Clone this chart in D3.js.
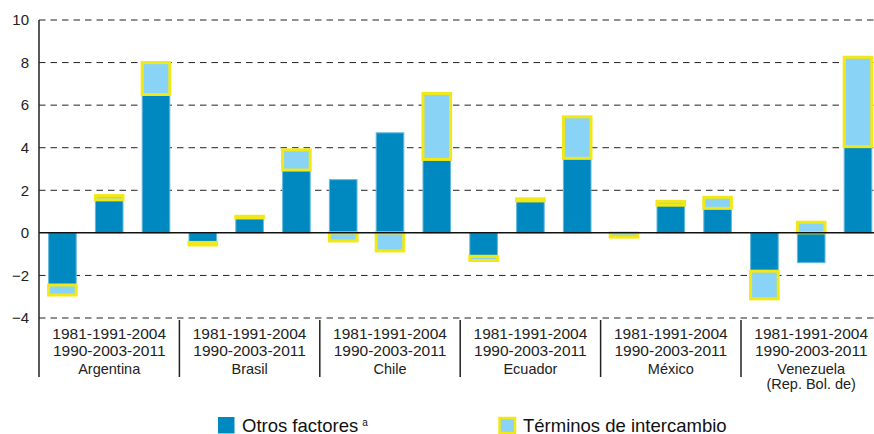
<!DOCTYPE html>
<html>
<head>
<meta charset="utf-8">
<script src="https://cdn.jsdelivr.net/npm/d3@7"></script>
<style>
	body { margin: 0; background: #fff; }
	svg { display: block; font-family: 'Liberation Sans', Arial, sans-serif; }
</style>
</head>
<body>
<div id="chart"></div>
<script>
// data
var countries = ['Argentina', 'Brasil', 'Chile', 'Ecuador', 'México', 'Venezuela\n(Rep. Bol. de)'];
var periods = ['1981-1990', '1991-2003', '2004-2011'];
// one value per country and period, same order
var otros = [-2.45, 1.55, 6.5, -0.45, 0.7, 2.95, 2.5, 4.7, 3.45, -1.1, 1.5, 3.5, 0, 1.3, 1.15, -1.8, -1.4, 4.05];
var terminos = [-0.47, 0.2, 1.5, -0.12, 0.08, 0.95, -0.38, -0.85, 3.1, -0.2, 0.1, 1.95, -0.2, 0.18, 0.52, -1.3, 0.5, 4.2];
var yTicks = [-4, -2, 0, 2, 4, 6, 8, 10];

var params = {
	width: 874,
	height: 434,
	left: 39,
	right: 881.4,
	top: 20,
	bottom: 318,
	otrosColor: '#0089c0',
	otrosEdge: '#62b9de',
	termColor: '#89d4f6',
	termEdge: '#f2e816'
};

var rows = [];
countries.forEach(function(c, i){
	periods.forEach(function(p, j){
		var k = i * periods.length + j;
		rows.push({country: c, period: p, otros: otros[k], terminos: terminos[k]});
	});
});

var svg = d3.select('#chart').append('svg')
	.attr('width', params.width)
	.attr('height', params.height);

var x0 = d3.scaleBand()
	.domain(countries)
	.range([params.left, params.right]);

var x1 = d3.scaleBand()
	.domain(periods)
	.range([0, x0.bandwidth()])
	.paddingInner(0.41)
	.paddingOuter(0.205);

var y = d3.scaleLinear()
	.domain([-4, 10])
	.range([params.bottom, params.top]);

// grid lines (dashed), zero line drawn later as solid
svg.append('g').selectAll('line')
	.data(yTicks.filter(function(d){ return d != 0; })).enter()
	.append('line')
		.attr('x1', params.left)
		.attr('x2', params.right)
		.attr('y1', function(d){ return y(d); })
		.attr('y2', function(d){ return y(d); })
		.attr('stroke', '#222')
		.attr('stroke-width', 1)
		.attr('stroke-dasharray', '6.5,5');

// stacked bars, diverging so negative parts hang from zero
var stack = d3.stack()
	.keys(['otros', 'terminos'])
	.offset(d3.stackOffsetDiverging);
var series = stack(rows);

var styles = {
	otros: {fill: params.otrosColor, stroke: params.otrosEdge, sw: 1},
	terminos: {fill: params.termColor, stroke: params.termEdge, sw: 3}
};

series.forEach(function(s){
	var st = styles[s.key];
	svg.append('g').selectAll('rect')
		.data(s.filter(function(d){ return d[1] - d[0] != 0; })).enter()
		.append('rect')
			.attr('x', function(d){ return x0(d.data.country) + x1(d.data.period); })
			.attr('width', x1.bandwidth())
			.attr('y', function(d){ return y(Math.max(d[0], d[1])); })
			.attr('height', function(d){ return Math.abs(y(d[0]) - y(d[1])); })
			.attr('fill', st.fill)
			.attr('stroke', st.stroke)
			.attr('stroke-width', st.sw);
});

// zero line
svg.append('line')
	.attr('x1', params.left)
	.attr('x2', params.right)
	.attr('y1', y(0))
	.attr('y2', y(0))
	.attr('stroke', '#111')
	.attr('stroke-width', 1.5);

// y axis
var yAxis = svg.append('g')
	.attr('transform', 'translate(' + params.left + ',0)')
	.call(d3.axisLeft(y).tickValues(yTicks).tickSize(0).tickPadding(10));
yAxis.select('.domain').remove();
yAxis.selectAll('text')
	.attr('font-size', '15px')
	.attr('fill', '#222')
	.attr('font-family', "'Liberation Sans', Arial, sans-serif");

svg.append('line')
	.attr('x1', params.left).attr('x2', params.left)
	.attr('y1', params.top).attr('y2', 377)
	.attr('stroke', '#222')
	.attr('stroke-width', 1.5);

// separators between countries
svg.append('g').selectAll('line')
	.data(countries.slice(1)).enter()
	.append('line')
		.attr('x1', function(d){ return x0(d); })
		.attr('x2', function(d){ return x0(d); })
		.attr('y1', 320)
		.attr('y2', 377)
		.attr('stroke', '#222')
		.attr('stroke-width', 1.5);

// category labels
var startYears = periods.map(function(p){ return p.split('-')[0]; }).join('-');
var endYears = periods.map(function(p){ return p.split('-')[1]; }).join('-');

var labels = svg.append('g').selectAll('g')
	.data(countries).enter()
	.append('g')
		.attr('transform', function(d){ return 'translate(' + (x0(d) + x0.bandwidth() / 2) + ',0)'; })
		.attr('text-anchor', 'middle')
		.attr('fill', '#222');

labels.append('text').attr('y', 339).attr('font-size', '15.5px').text(startYears);
labels.append('text').attr('y', 356).attr('font-size', '15.5px').text(endYears);
labels.each(function(d){
	var g = d3.select(this);
	d.split('\n').forEach(function(line, i){
		g.append('text')
			.attr('y', 374 + i * 15)
			.attr('font-size', '14.5px')
			.text(line);
	});
});

// legend
var legend = svg.append('g').attr('fill', '#111');
legend.append('rect')
	.attr('x', 218).attr('y', 417).attr('width', 16.5).attr('height', 16.5)
	.attr('fill', params.otrosColor);
var t1 = legend.append('text')
	.attr('x', 242).attr('y', 431.5)
	.attr('font-size', '18.5px')
	.text('Otros factores');
t1.append('tspan')
	.attr('dx', 4)
	.attr('dy', -6)
	.attr('font-size', '10px')
	.text('a');

legend.append('rect')
	.attr('x', 499.5).attr('y', 418).attr('width', 15.5).attr('height', 15)
	.attr('fill', params.termColor)
	.attr('stroke', params.termEdge)
	.attr('stroke-width', 2.5);
legend.append('text')
	.attr('x', 523).attr('y', 431.5)
	.attr('font-size', '18.5px')
	.text('Términos de intercambio');
</script>
</body>
</html>
